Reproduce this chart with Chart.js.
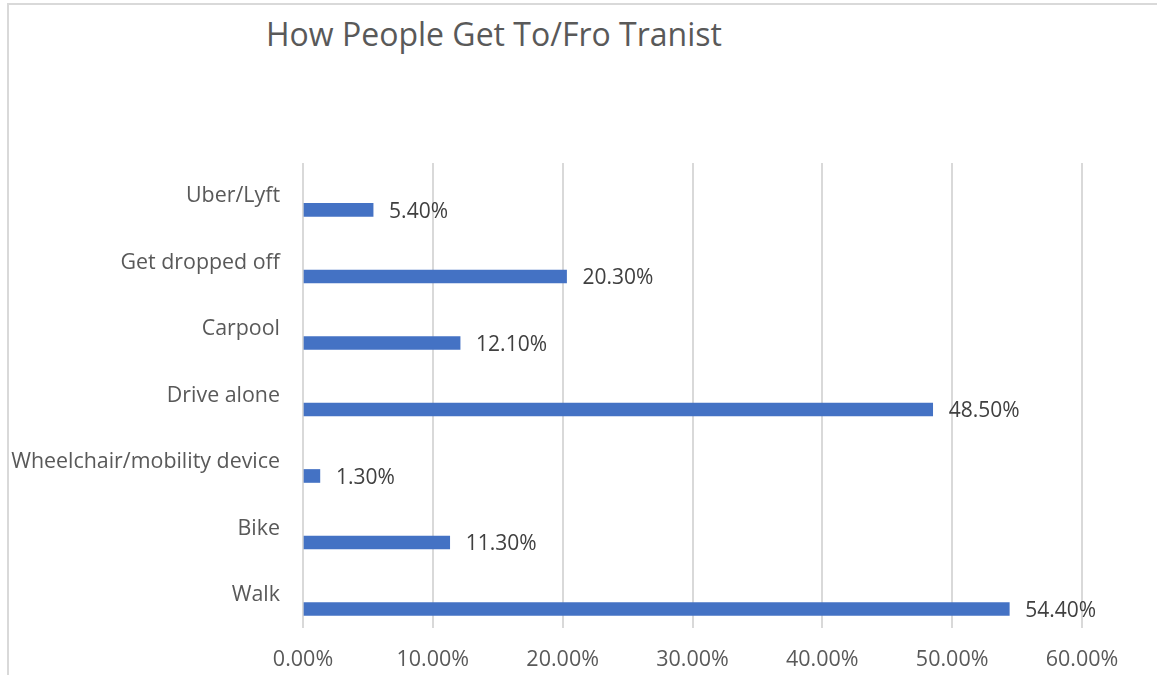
<!DOCTYPE html>
<html>
<head>
<meta charset="utf-8">
<script src="https://cdn.jsdelivr.net/npm/chart.js@4/dist/chart.umd.min.js"></script>
<style>
    html, body { margin: 0; padding: 0; background: #fff; overflow: hidden; }
    #frame {
        position: absolute; left: 7px; top: 3px;
        width: 1300px; height: 800px;
        border: 2px solid #d9d9d9;
    }
    #title {
        position: absolute; left: 266px; top: 12px;
        font-family: 'Open Sans', sans-serif; font-size: 32px;
        color: #595959; white-space: nowrap;
    }
    #wrap { position: absolute; left: 0; top: 0; width: 1157px; height: 675px; }
</style>
</head>
<body>
<div id="frame"></div>
<div id="title">How People Get To/Fro Tranist</div>
<div id="wrap"><canvas id="transitChart"></canvas></div>
<script>
// categories listed bottom to top, like the spreadsheet
const categories = ['Walk', 'Bike', 'Wheelchair/mobility device', 'Drive alone', 'Carpool', 'Get dropped off', 'Uber/Lyft'];
const shares = [54.4, 11.3, 1.3, 48.5, 12.1, 20.3, 5.4];
const xTicks = [0, 10, 20, 30, 40, 50, 60];

const textColor = '#595959';
const fontFamily = "'Open Sans', sans-serif";

// value labels to the right of each bar
const barLabels = {
    id: 'barLabels',
    afterDatasetsDraw(chart) {
        const ctx = chart.ctx;
        const meta = chart.getDatasetMeta(0);
        ctx.save();
        ctx.font = '21px ' + fontFamily;
        ctx.fillStyle = '#404040';
        ctx.textAlign = 'left';
        ctx.textBaseline = 'middle';
        meta.data.forEach((bar, i) => {
            ctx.fillText(shares[i].toFixed(2) + '%', bar.x + 16, bar.y + 2);
        });
        ctx.restore();
    }
};

const ctx = document.getElementById('transitChart').getContext('2d');
const transitChart = new Chart(ctx, {
    type: 'bar',
    data: {
        datasets: [{
            data: shares.map((v, i) => ({ x: v, y: i })),
            backgroundColor: '#4472C4',
            barThickness: 13
        }]
    },
    options: {
        indexAxis: 'y',
        responsive: true,
        maintainAspectRatio: false,
        animation: false,
        layout: { padding: { top: 163, right: 75, bottom: 0, left: 0 } },
        plugins: {
            legend: { display: false },
            tooltip: { enabled: false }
        },
        scales: {
            x: {
                min: 0,
                max: 60,
                afterBuildTicks: scale => { scale.ticks = xTicks.map(v => ({ value: v })); },
                afterFit: scale => { scale.height = 47; },
                grid: { color: '#d9d9d9', lineWidth: 2, drawTicks: false },
                border: { display: false },
                ticks: {
                    padding: 19,
                    color: textColor,
                    font: { family: fontFamily, size: 21.5 },
                    callback: v => v.toFixed(2) + '%'
                }
            },
            y: {
                // linear index axis so the bars can sit below the category labels
                type: 'linear',
                offset: false,
                min: -0.286,
                max: 6.706,
                afterBuildTicks: scale => { scale.ticks = categories.map((c, i) => ({ value: i })); },
                afterFit: scale => { scale.width = 303; },
                grid: { display: false, offset: false },
                border: { display: false },
                ticks: {
                    autoSkip: false,
                    padding: 15,
                    labelOffset: -14,
                    color: textColor,
                    font: { family: fontFamily, size: 21.4 },
                    callback: v => categories[v]
                }
            }
        }
    },
    plugins: [barLabels]
});
</script>
</body>
</html>
